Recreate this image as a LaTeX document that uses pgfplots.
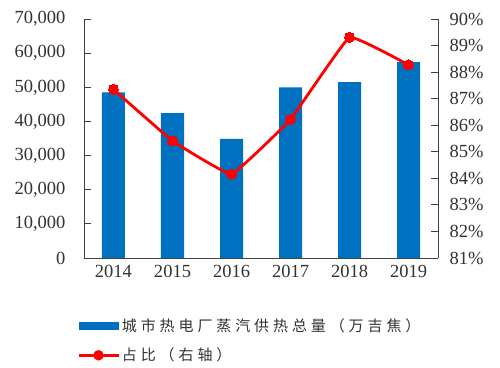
\documentclass[border=0pt]{standalone}
\usepackage{pgfplots}
\pgfplotsset{compat=1.18}
\usepackage{fontspec}
\setmainfont{Liberation Serif}
\newfontfamily\cjk[LetterSpace=26]{Noto Sans CJK SC}
\definecolor{barblue}{RGB}{0,112,192}
\definecolor{txt}{RGB}{50,50,50}
\begin{document}
\begin{tikzpicture}
\useasboundingbox (-84pt,-109pt) rectangle (416pt,258pt);
\begin{axis}[
  at={(0pt,0pt)}, anchor=south west,
  scale only axis, width=354pt, height=239pt,
  xmin=-0.5, xmax=5.5, ymin=0, ymax=70000,
  axis x line*=bottom, axis y line*=left,
  axis line style={black!75, line width=0.8pt},
  xtick={0,...,5},
  xticklabels={2014,2015,2016,2017,2018,2019},
  extra x ticks={0.5,1.5,2.5,3.5,4.5},
  extra x tick labels={},
  major x tick style={draw=none},
  major tick length=7pt,
  tick style={black!75, line width=0.8pt},
  ytick={0,10000,...,70000},
  scaled y ticks=false,
  /pgf/number format/.cd, fixed, 1000 sep={,}, assume math mode=true,
  /pgfplots/.cd,
  tick label style={font=\fontsize{18.5}{20}\selectfont, text=txt},
  yticklabel style={xshift=-15pt},
  xticklabel style={yshift=-4pt},
  legend style={at={(-0.02,-0.245)}, anchor=north west, draw=none, fill=none,
    font=\cjk\fontsize{15}{16}\selectfont, text=txt, row sep=11pt, inner sep=0pt},
  legend cell align=left,
]
\addplot[ybar, bar width=23pt, fill=barblue, draw=none,
  legend image code/.code={\fill[barblue] (0pt,-4pt) rectangle (40pt,4pt);}]
  coordinates {(0,48500) (1,42400) (2,34900) (3,50000) (4,51550) (5,57400)};
\addlegendentry{城市热电厂蒸汽供热总量（万吉焦）}
\addlegendimage{legend image code/.code={\draw[red, line width=2.8pt] (0pt,0pt) -- (40pt,0pt); \fill[red] (20pt,0pt) circle (5pt);}}
\addlegendentry{占比（右轴）}
\end{axis}
\begin{axis}[
  at={(0pt,0pt)}, anchor=south west,
  scale only axis, width=354pt, height=239pt,
  xmin=-0.5, xmax=5.5, ymin=81, ymax=90,
  axis x line=none, axis y line*=right,
  axis line style={black!75, line width=0.8pt},
  tick style={black!75, line width=0.8pt},
  major tick length=7pt,
  ytick={81,...,90},
  yticklabel={\pgfmathprintnumber{\tick}\%},
  /pgf/number format/.cd, assume math mode=true,
  /pgfplots/.cd,
  tick label style={font=\fontsize{18.5}{20}\selectfont, text=txt},
  yticklabel style={xshift=8pt},
]
\addplot[red, line width=2.8pt, smooth, tension=0.15, mark=*, mark size=5pt, mark options={fill=red, draw=red, line width=0pt}]
  coordinates {(0,87.35) (1,85.41) (2,84.16) (3,86.22) (4,89.31) (5,88.27)};
\end{axis}
\end{tikzpicture}
\end{document}
